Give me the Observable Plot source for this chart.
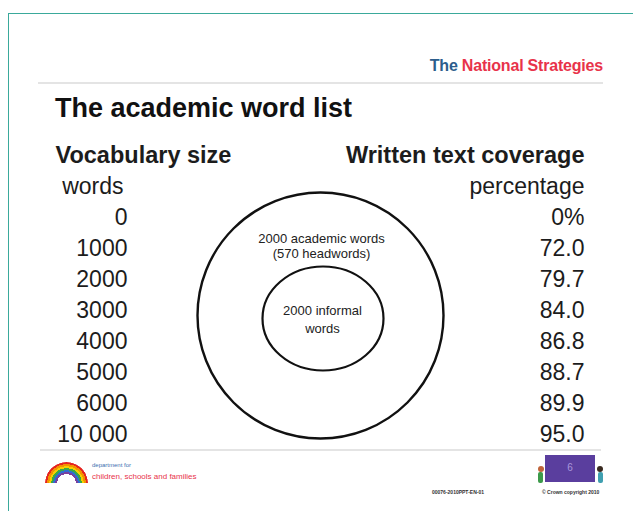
<!DOCTYPE html>
<html>
<head>
<meta charset="utf-8">
<script src="https://cdn.jsdelivr.net/npm/d3@7"></script>
<script src="https://cdn.jsdelivr.net/npm/@observablehq/plot@0.6"></script>
<style>
  html, body { margin: 0; padding: 0; background: #fff; }
  #slide { position: relative; width: 633px; height: 511px; overflow: hidden; background: #fff;
           font-family: "Liberation Sans", Arial, Helvetica, sans-serif; }
  .abs { position: absolute; }
  #border { left: 8px; top: 13px; width: 700px; height: 600px; border: 1.5px solid #3aa99b; }
  #brand { right: 30px; top: 58px; font-weight: bold; font-size: 16px; line-height: 16px; white-space: nowrap; letter-spacing: -0.2px; }
  #brand .the { color: #2c5d8c; }
  #brand .ns { color: #e8334a; }
  .sep { background: #e4e4e4; height: 2px; }
  #title { left: 55px; top: 95px; font-weight: bold; font-size: 27px; line-height: 27px; color: #111; white-space: nowrap; }
  #chart { left: 0; top: 125px; }
  #rainbow { left: 45px; top: 462px; width: 43px; height: 21px; overflow: hidden; }
  #rainbow div { width: 43px; height: 43px; border-radius: 50%;
    background: radial-gradient(circle closest-side, #fff 0 44%, #7a3f9e 44% 53%, #2f6fd0 53% 62%, #3aa845 62% 71%, #f5d000 71% 80%, #f39200 80% 90%, #e52420 90% 100%, transparent 100%); }
  #dcsf1 { left: 92px; top: 462px; font-size: 6px; color: #3b6fb0; white-space: nowrap; }
  #dcsf2 { left: 92px; top: 472px; font-size: 8px; color: #e8334a; white-space: nowrap; }
  #board { left: 545px; top: 455px; width: 50px; height: 27px; background: #5a3e9e; color: #a997dc;
           font-size: 10px; text-align: center; line-height: 25px; }
  .head { width: 6px; height: 6px; border-radius: 50%; }
  .body { width: 5px; height: 11px; border-radius: 2px; }
  .tiny { font-size: 5px; color: #333; font-weight: bold; white-space: nowrap; }
</style>
</head>
<body>
<div id="slide">
  <div id="border" class="abs"></div>
  <div id="brand" class="abs"><span class="the">The</span> <span class="ns">National Strategies</span></div>
  <div class="abs sep" style="left:38px;top:82px;width:565px;"></div>
  <div id="title" class="abs">The academic word list</div>
  <div id="chart" class="abs"></div>
  <div class="abs sep" style="left:40px;top:449px;width:561px;"></div>
  <div id="rainbow" class="abs"><div></div></div>
  <div id="dcsf1" class="abs">department for</div>
  <div id="dcsf2" class="abs">children, schools and families</div>
  <div class="abs head" style="left:538px;top:466px;background:#c0643a;"></div>
  <div class="abs body" style="left:538px;top:472px;background:#3c9a4a;"></div>
  <div id="board" class="abs">6</div>
  <div class="abs head" style="left:597px;top:466px;background:#3a2a20;"></div>
  <div class="abs body" style="left:598px;top:472px;background:#3f9fb0;"></div>
  <div class="abs tiny" style="left:432px;top:489px;">00076-2010PPT-EN-01</div>
  <div class="abs tiny" style="left:542px;top:489px;">© Crown copyright 2010</div>
</div>
<script>
// ---- data ----
const headers = ["Vocabulary size", "Written text coverage"];
const units = ["words", "percentage"];
const vocabularySize = [0, 1000, 2000, 3000, 4000, 5000, 6000, 10000];
const textCoverage = [0, 72.0, 79.7, 84.0, 86.8, 88.7, 89.9, 95.0];
const ringLabels = ["2000 academic words\n(570 headwords)", "2000 informal\nwords"];

// ---- tables built from the data ----
const columns = ["vocabulary", "coverage"];
const rowKeys = ["header", "unit", ...vocabularySize.map(String)];
const fmtVocab = v => v >= 10000 ? d3.format(",")(v).replace(/,/g, " ") : String(v);
const fmtCov = (c, i) => i === 0 ? `${c}%` : c.toFixed(1);

const headerRows = headers.map((t, i) => ({col: columns[i], row: "header", text: t}));
const unitRows = units.map((t, i) => ({col: columns[i], row: "unit", text: t}));
const valueRows = vocabularySize.flatMap((v, i) => [
  {col: "vocabulary", row: String(v), text: fmtVocab(v)},
  {col: "coverage", row: String(v), text: fmtCov(textCoverage[i], i)}
]);

const font = '"Liberation Sans", Arial, Helvetica, sans-serif';
const ink = "#1c1c1c";

const svg = Plot.plot({
  width: 633,
  height: 325,
  marginLeft: 127,
  marginRight: 49,
  marginTop: 28,
  marginBottom: 14,
  x: {type: "point", domain: columns, padding: 0, axis: null},
  y: {type: "point", domain: rowKeys, padding: 0, axis: null},
  style: {fontFamily: font, color: ink, background: "transparent", overflow: "visible"},
  marks: [
    Plot.dot([ringLabels[0]], {frameAnchor: "middle", dx: -35.5, dy: 20.5, r: 123, stroke: "#111", strokeWidth: 2.4, fill: "none"}),
    Plot.dot([ringLabels[1]], {frameAnchor: "middle", dx: -33, dy: 23.5, r: 60.5, stroke: "#111", strokeWidth: 2.2, fill: "none"}),
    Plot.text([ringLabels[0]], {frameAnchor: "middle", text: d => d, dx: -34.5, dy: -49, fontSize: 13, lineHeight: 1.15, fill: "#222"}),
    Plot.text([ringLabels[1]], {frameAnchor: "middle", text: d => d, dx: -33.5, dy: 23.5, fontSize: 13, lineHeight: 1.38, fill: "#222"}),
    Plot.text(headerRows.filter(d => d.col === "vocabulary"), {x: "col", y: "row", text: "text", textAnchor: "start", dx: -72, fontSize: 23.5, fontWeight: "bold", fill: ink}),
    Plot.text(headerRows.filter(d => d.col === "coverage"), {x: "col", y: "row", text: "text", textAnchor: "end", fontSize: 23.5, fontWeight: "bold", fill: ink}),
    Plot.text(unitRows.filter(d => d.col === "vocabulary"), {x: "col", y: "row", text: "text", textAnchor: "end", dx: -4, fontSize: 23, fill: ink}),
    Plot.text(unitRows.filter(d => d.col === "coverage"), {x: "col", y: "row", text: "text", textAnchor: "end", fontSize: 23, fill: ink}),
    Plot.text(valueRows, {x: "col", y: "row", text: "text", textAnchor: "end", fontSize: 23, fill: ink})
  ]
});

// inner ring is an ellipse in the original slide
const circles = svg.querySelectorAll("circle");
if (circles.length > 1) {
  const c = circles[1];
  const e = document.createElementNS("http://www.w3.org/2000/svg", "ellipse");
  for (const a of c.getAttributeNames()) if (a !== "r") e.setAttribute(a, c.getAttribute(a));
  e.setAttribute("rx", 60.5);
  e.setAttribute("ry", 52);
  c.replaceWith(e);
}

document.getElementById("chart").appendChild(svg);
</script>
</body>
</html>
